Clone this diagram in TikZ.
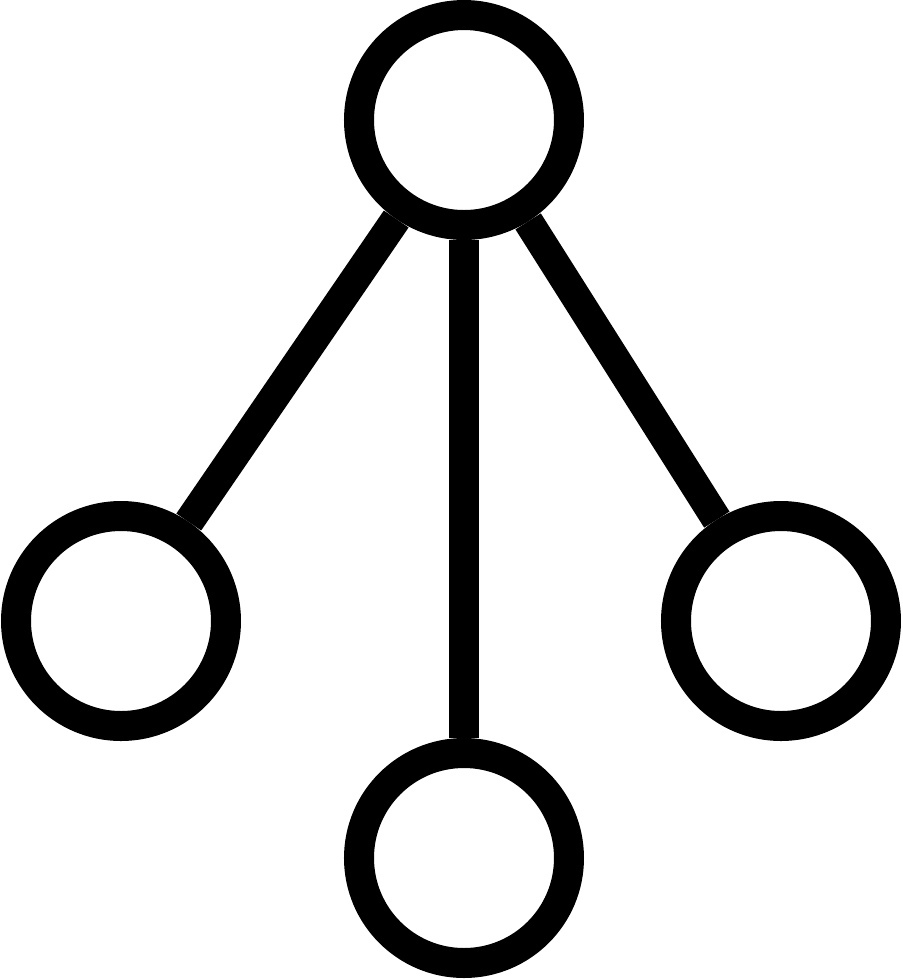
\documentclass[tikz,border=0pt]{standalone}
\begin{document}
\begin{tikzpicture}[
  ring/.style={draw, circle, line width=0.3cm, minimum size=2.1cm, inner sep=0pt},
  stick/.style={line width=0.3cm}]
\useasboundingbox (0,0) rectangle (9.02,-9.80);
% the four rings
\node[ring] (root) at (4.64,-1.20) {};
\node[ring] (left) at (1.21,-6.21) {};
\node[ring] (right) at (7.81,-6.21) {};
\node[ring] (down) at (4.64,-8.58) {};
% the three sticks
\draw[stick] (root) -- (left);
\draw[stick] (root) -- (down);
\draw[stick] (root) -- (right);
\end{tikzpicture}
\end{document}
